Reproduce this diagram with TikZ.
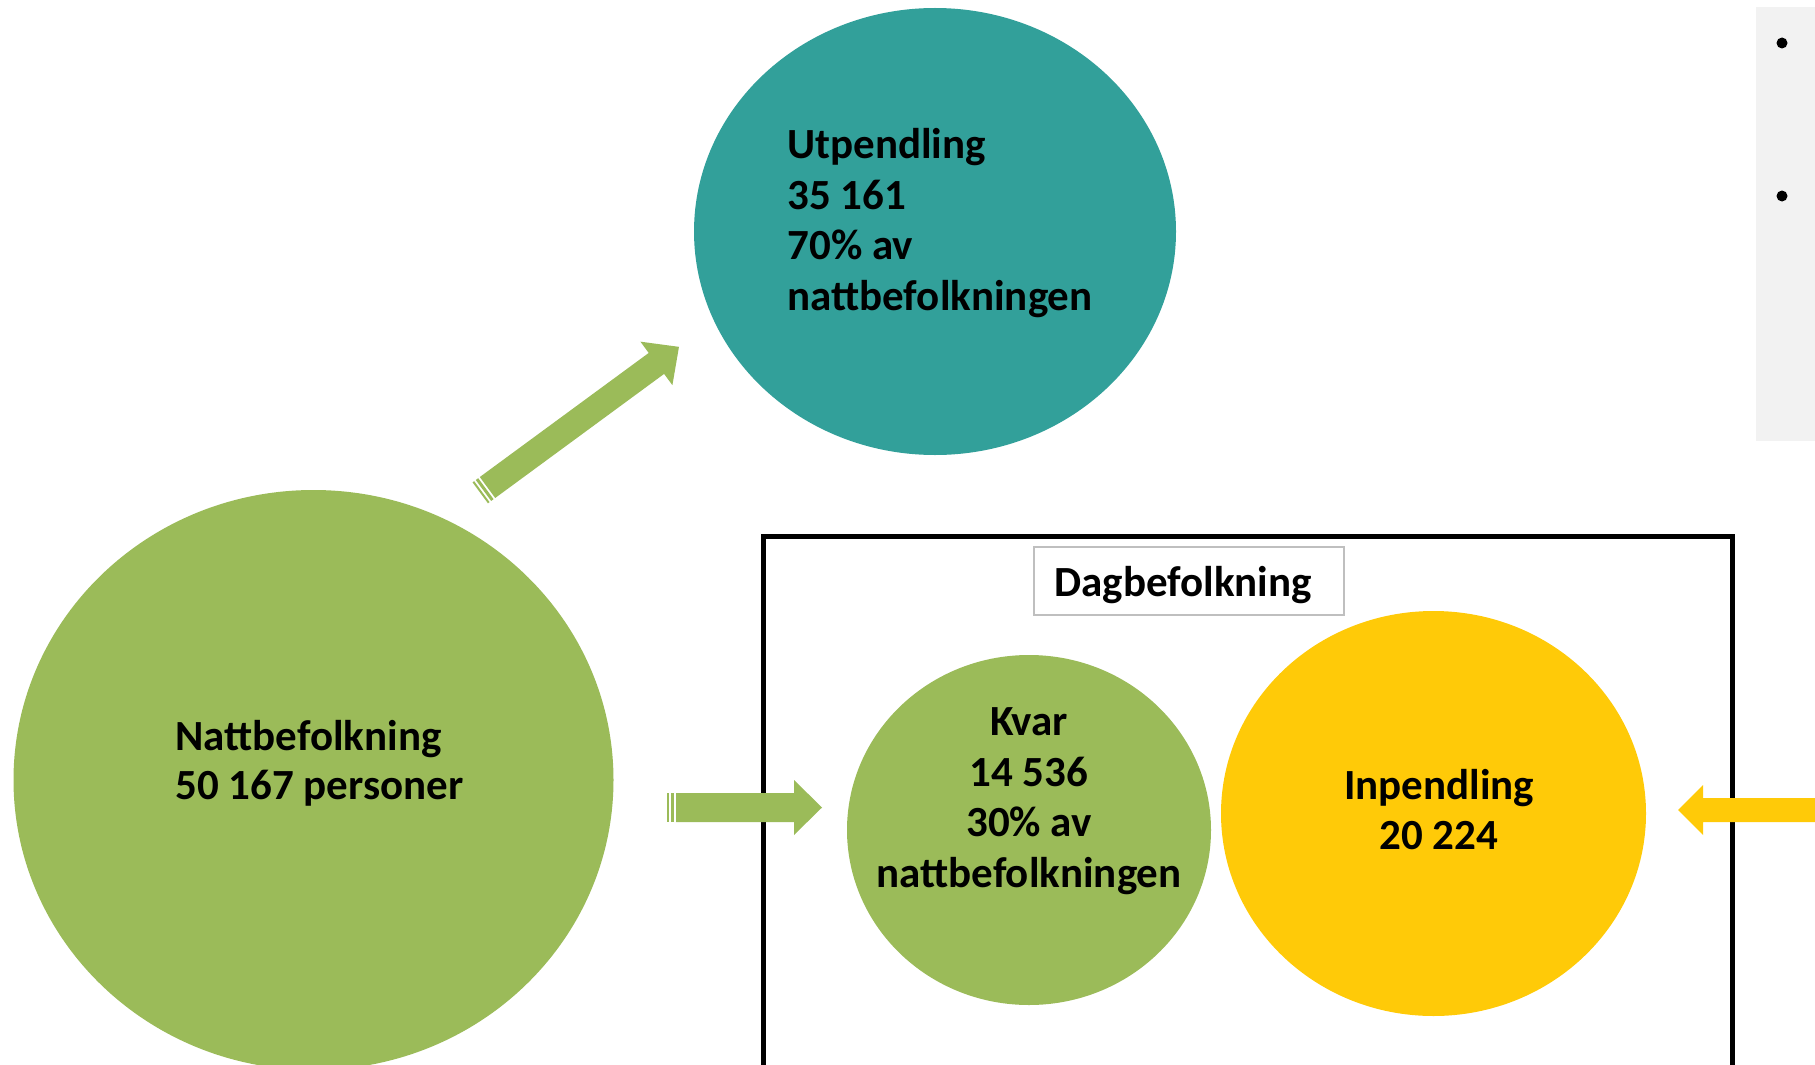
\documentclass[tikz,border=0pt]{standalone}
\usepackage{fontspec}
\setmainfont{Carlito}
\usetikzlibrary{shapes.geometric}
\definecolor{tealc}{RGB}{50,160,154}
\definecolor{greenc}{RGB}{155,187,89}
\definecolor{yellowc}{RGB}{255,202,8}
\definecolor{panelc}{RGB}{242,242,242}
\definecolor{boxc}{RGB}{191,191,191}
\newcommand\lblfont{\fontsize{21.5}{25.3}\selectfont\bfseries}
\newcommand\stripedshaft[4]{%
  \fill (-9,-#2) rectangle (-7,#2);
  \fill (-5,-#2) rectangle (-2,#2);
  \fill (0,-#2) -- (#1,-#2) -- (#1,-#4) -- ({#1+#3},0) -- (#1,#4) -- (#1,#2) -- (0,#2) -- cycle;}
\begin{document}
\begin{tikzpicture}[x=0.5pt,y=-0.5pt,
  blob/.style={ellipse,inner sep=0pt,draw=none},
  lbl/.style={font=\lblfont,inner sep=0pt,anchor=base west,text=black},
  clbl/.style={font=\lblfont,inner sep=0pt,anchor=base,text=black}]
\useasboundingbox (0,0) rectangle (1815,1065);
\clip (0,0) rectangle (1815,1065);
% right panel
\fill[panelc] (1756,7) rectangle (1830,441);
\fill[black] (1782,43) circle (5.5);
\fill[black] (1782,196) circle (5.5);
% ellipses
\node[blob,fill=tealc,minimum width=241pt,minimum height=223.5pt] (utp) at (935,231.5) {};
\node[blob,fill=greenc,minimum width=300pt,minimum height=290pt] (natt) at (313.5,780) {};
% day population frame
\draw[line width=2.5pt] (763.5,1090) -- (763.5,536.5) -- (1732,536.5) -- (1732,1090);
\node[draw=boxc,line width=0.7pt,fill=white,minimum width=155pt,minimum height=34pt,inner sep=0pt] (dagbox) at (1189,581) {};
\node[lbl] (dagtext) at (1054,596) {Dagbefolkning};
\node[blob,fill=greenc,minimum width=182pt,minimum height=175pt] (kvar) at (1029,830) {};
\node[blob,fill=yellowc,minimum width=212.5pt,minimum height=202.5pt] (inp) at (1433.5,813.5) {};
% arrows
\begin{scope}[fill=greenc,shift={(487.5,487.5)},rotate=36.3]
  \stripedshaft{209.6}{13}{28}{27}
\end{scope}
\begin{scope}[fill=greenc,shift={(676,807.5)}]
  \stripedshaft{118}{14.5}{28}{27.5}
\end{scope}
\fill[yellowc] (1830,798) -- (1703,798) -- (1703,785) -- (1678,810) -- (1703,835) -- (1703,822) -- (1830,822) -- cycle;
% labels
\node[lbl] (u1) at (787,158.5) {Utpendling};
\node[lbl] (u2) at (787,209) {35 161};
\node[lbl] (u3) at (787,259.7) {70\% av};
\node[lbl] (u4) at (787,310) {nattbefolkningen};
\node[lbl] (n1) at (175,750.7) {Nattbefolkning};
\node[lbl] (n2) at (175,799.7) {50 167 personer};
\node[clbl] (k1) at (1029,735) {Kvar};
\node[clbl] (k2) at (1029,786.4) {14 536};
\node[clbl] (k3) at (1029,836.4) {30\% av};
\node[clbl] (k4) at (1029,887.4) {nattbefolkningen};
\node[clbl] (i1) at (1439,799.7) {Inpendling};
\node[clbl] (i2) at (1439,849) {20 224};
\end{tikzpicture}
\end{document}
